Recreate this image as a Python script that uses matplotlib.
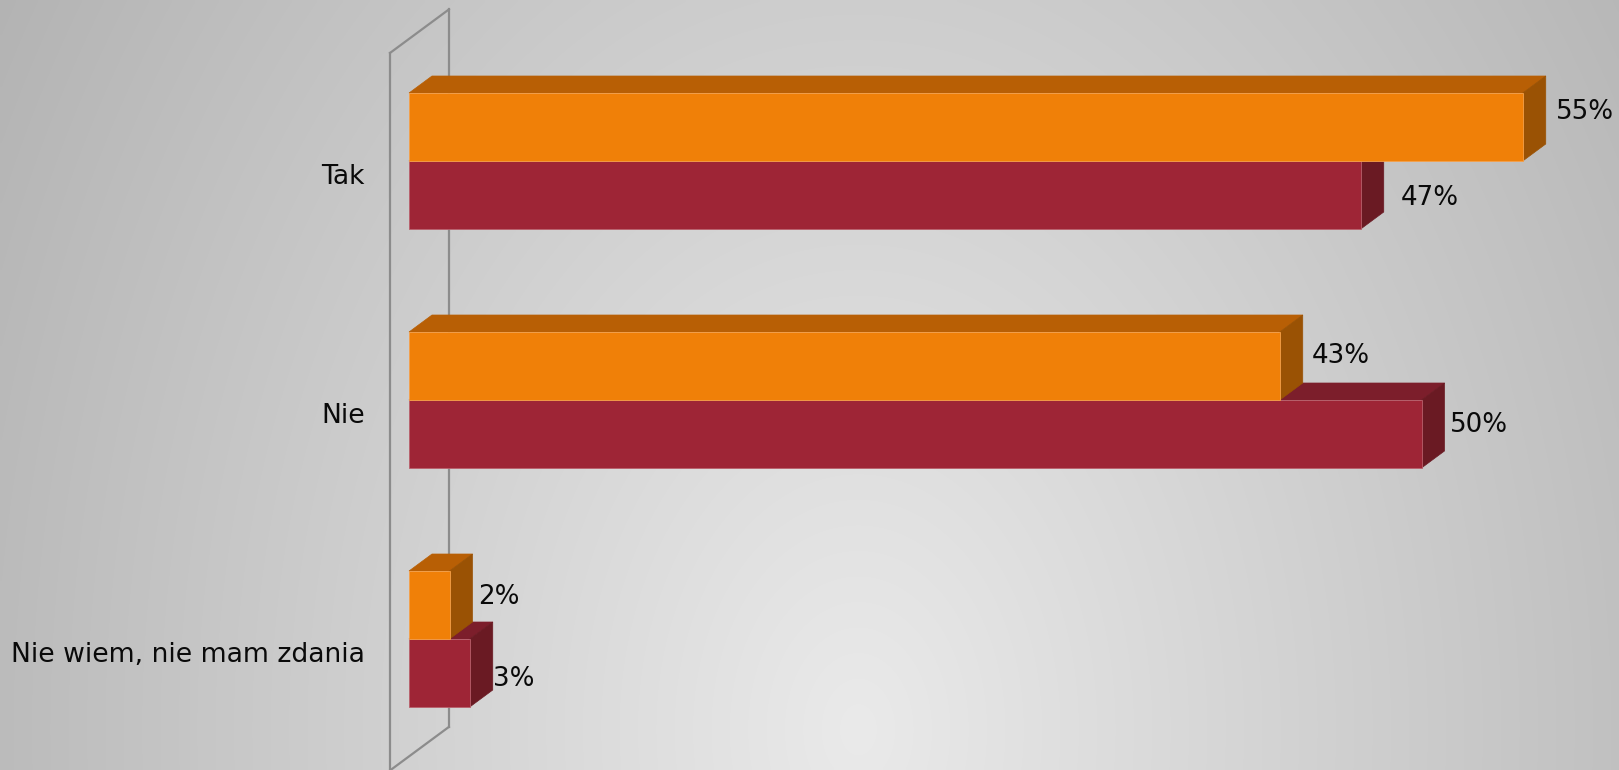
import numpy as np
import matplotlib
matplotlib.use("Agg")
import matplotlib.pyplot as plt
from matplotlib.patches import Polygon

# ---------------- data ----------------
categories = ["Tak", "Nie", "Nie wiem, nie mam zdania"]
series_orange = [55, 43, 2]
series_red = [47, 50, 3]
value_labels_orange = ["55%", "43%", "2%"]
value_labels_red = ["47%", "50%", "3%"]

# ---------------- layout / style ----------------
W, H, DPI = 1619, 770, 100
PX_PER_UNIT_X = 20.25      # pixels per percent
X0_PX = 409                # pixel of the value axis origin
FIRST_CAT_PX = 161         # pixel (from top) of first category centre
CAT_STEP_PX = 239          # pixel distance between categories
BAR_H = 68 / CAT_STEP_PX   # height of one bar in category units
DX = 23 / PX_PER_UNIT_X    # 3D depth offset (x)
DY = 17 / CAT_STEP_PX      # 3D depth offset (y, upwards)

ORANGE = dict(front="#F08008", top="#B85F05", side="#9A5204", edge="#F5A04A")
RED = dict(front="#9E2536", top="#7C1E2B", side="#6A1A23", edge="#B9606C")

# label offsets (pixels) relative to end of bar depth / bar centre
off_orange = [(10, 15), (9, 10), (6, 8)]
off_red = [(17, -3), (5, 9), (0, -6)]

fig = plt.figure(figsize=(W / DPI, H / DPI), dpi=DPI)

# background radial gradient
bg = fig.add_axes([0, 0, 1, 1])
gx = np.linspace(0, 1, 400)
gy = np.linspace(0, 1, 200)
GX, GY = np.meshgrid(gx, gy)
val = 234 - np.sqrt((88 * (GX - 0.53)) ** 2 + (30 * (GY - 0.95)) ** 2)
val = np.clip(val, 0, 255) / 255.0
img = np.dstack([val, val, val])
bg.imshow(img, extent=[0, 1, 1, 0], aspect="auto", interpolation="bilinear")
bg.set_xlim(0, 1)
bg.set_ylim(1, 0)
bg.axis("off")

ax = fig.add_axes([0, 0, 1, 1])
ax.set_facecolor("none")
ax.set_xlim(-X0_PX / PX_PER_UNIT_X, (W - X0_PX) / PX_PER_UNIT_X)
ax.set_ylim((H - FIRST_CAT_PX) / CAT_STEP_PX, -FIRST_CAT_PX / CAT_STEP_PX)
ax.axis("off")

# side wall (outline)
wall_front_x = -19 / PX_PER_UNIT_X
wall_depth_x = 2.56 * DX
wall_depth_y = 2.56 * DY
wall_top = -0.452
wall_bottom = 2.55
wall_color = "#8C8C8C"
ax.plot([wall_front_x, wall_front_x], [wall_bottom + 0.2, wall_top], color=wall_color, lw=1.6, zorder=1)
ax.plot([wall_front_x, wall_front_x + wall_depth_x], [wall_top, wall_top - wall_depth_y], color=wall_color, lw=1.6, zorder=1)
ax.plot([wall_front_x + wall_depth_x] * 2, [wall_top - wall_depth_y, wall_bottom - wall_depth_y], color=wall_color, lw=1.6, zorder=1)
ax.plot([wall_front_x + wall_depth_x, wall_front_x], [wall_bottom - wall_depth_y, wall_bottom], color=wall_color, lw=1.6, zorder=1)


def draw_bar3d(v, ytop, ybot, col, z):
    top = Polygon([(0, ytop), (v, ytop), (v + DX, ytop - DY), (DX, ytop - DY)],
                  closed=True, facecolor=col["top"], edgecolor=col["top"], lw=0.5, zorder=z)
    side = Polygon([(v, ytop), (v, ybot), (v + DX, ybot - DY), (v + DX, ytop - DY)],
                   closed=True, facecolor=col["side"], edgecolor=col["side"], lw=0.5, zorder=z)
    ax.add_patch(top)
    ax.add_patch(side)


ypos = np.arange(len(categories))

# red series (lower bar of each pair), drawn first
for i, v in enumerate(series_red):
    draw_bar3d(v, ypos[i], ypos[i] + BAR_H, RED, 2)
ax.barh(ypos + BAR_H / 2, series_red, height=BAR_H, color=RED["front"],
        edgecolor=RED["edge"], linewidth=0.6, zorder=3)

# orange series (upper bar)
for i, v in enumerate(series_orange):
    draw_bar3d(v, ypos[i] - BAR_H, ypos[i], ORANGE, 4)
ax.barh(ypos - BAR_H / 2, series_orange, height=BAR_H, color=ORANGE["front"],
        edgecolor=ORANGE["edge"], linewidth=0.6, zorder=5)

# category labels
for i, c in enumerate(categories):
    ax.annotate(c, xy=(0, ypos[i]), xytext=(-44, -16), textcoords="offset pixels",
                ha="right", va="center", fontsize=19.2, color="#0A0A0A", zorder=6)

# value labels
for i, v in enumerate(series_orange):
    ax.annotate(value_labels_orange[i], xy=(v + DX, ypos[i] - BAR_H / 2),
                xytext=off_orange[i], textcoords="offset pixels",
                ha="left", va="center", fontsize=18.8, color="#0A0A0A", zorder=6)
for i, v in enumerate(series_red):
    ax.annotate(value_labels_red[i], xy=(v + DX, ypos[i] + BAR_H / 2),
                xytext=off_red[i], textcoords="offset pixels",
                ha="left", va="center", fontsize=18.8, color="#0A0A0A", zorder=6)

fig.savefig("out.png", dpi=DPI)
